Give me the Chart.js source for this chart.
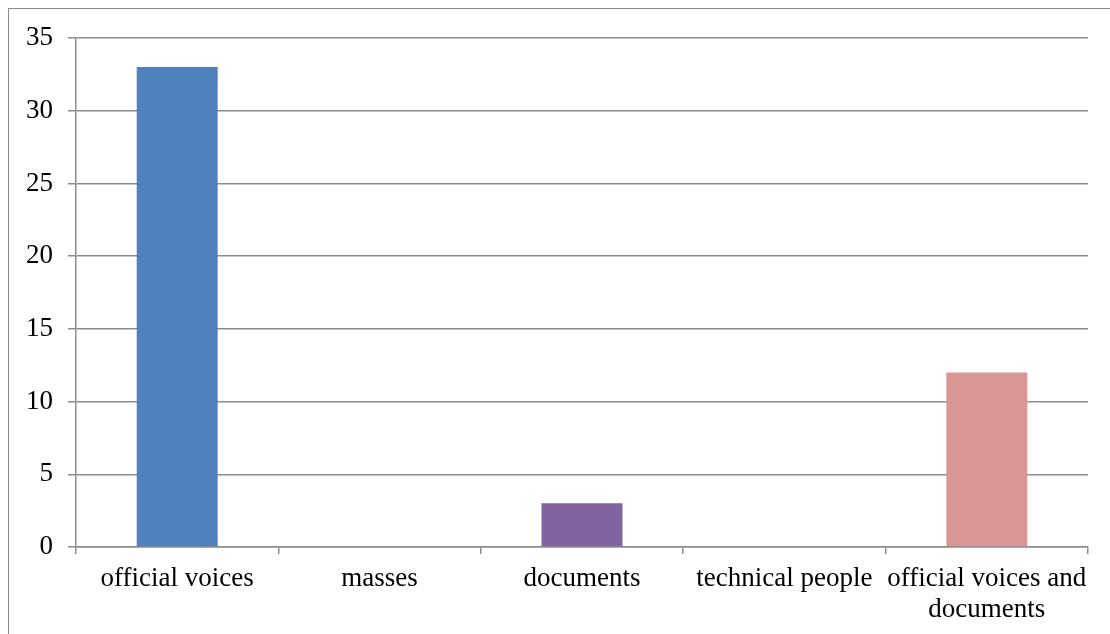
<!DOCTYPE html>
<html>
<head>
<meta charset="utf-8">
<script src="https://cdn.jsdelivr.net/npm/chart.js@4"></script>
<style>
  html, body { margin: 0; padding: 0; background: #fff; }
  #wrap { position: relative; width: 1110px; height: 634px; overflow: hidden; }
  #frame { position: absolute; left: 8px; top: 8px; width: 1120px; height: 660px;
           border: 1.5px solid #8a8a8a; box-sizing: border-box; }
  canvas { position: absolute; left: 0; top: 0; }
</style>
</head>
<body>
<div id="wrap">
  <div id="frame"></div>
  <canvas id="c" width="1110" height="634"></canvas>
</div>
<script>
// Sources cited, by type
const categories = [
  "official voices",
  "masses",
  "documents",
  "technical people",
  ["official voices and", "documents"]
];
const counts = [33, 0, 3, 0, 12];
const barColors = ["#4F81BD", "#4F81BD", "#8064A2", "#8064A2", "#D99694"];
const yTicks = [0, 5, 10, 15, 20, 25, 30, 35];

const gridGray = "#8c8c8c";
const font = { family: "'Liberation Serif', 'Times New Roman', serif", size: 27, lineHeight: 1.15 };

new Chart(document.getElementById("c"), {
  type: "bar",
  data: {
    labels: categories,
    datasets: [{
      data: counts,
      backgroundColor: barColors,
      borderWidth: 0,
      categoryPercentage: 1.0,
      barPercentage: 0.4
    }]
  },
  options: {
    responsive: false,
    animation: false,
    devicePixelRatio: 1,
    layout: { padding: { left: 0, top: 38, right: 22, bottom: 0 } },
    plugins: { legend: { display: false }, tooltip: { enabled: false } },
    scales: {
      x: {
        offset: true,
        grid: {
          offset: true,
          drawOnChartArea: false,
          drawTicks: true,
          tickLength: 7,
          color: gridGray,
          lineWidth: 1.5
        },
        border: { display: true, color: gridGray, width: 1.5 },
        ticks: {
          color: "#000",
          font: font,
          padding: 9,
          maxRotation: 0,
          minRotation: 0,
          autoSkip: false
        },
        afterFit: s => { s.height = 87; }
      },
      y: {
        min: 0,
        max: 35,
        afterBuildTicks: s => { s.ticks = yTicks.map(v => ({ value: v })); },
        grid: {
          color: gridGray,
          lineWidth: 1.5,
          drawTicks: true,
          tickLength: 8
        },
        border: { display: true, color: gridGray, width: 1.5 },
        ticks: {
          color: "#000",
          font: font,
          padding: 15
        },
        afterFit: s => { s.width = 76; }
      }
    }
  }
});
</script>
</body>
</html>
